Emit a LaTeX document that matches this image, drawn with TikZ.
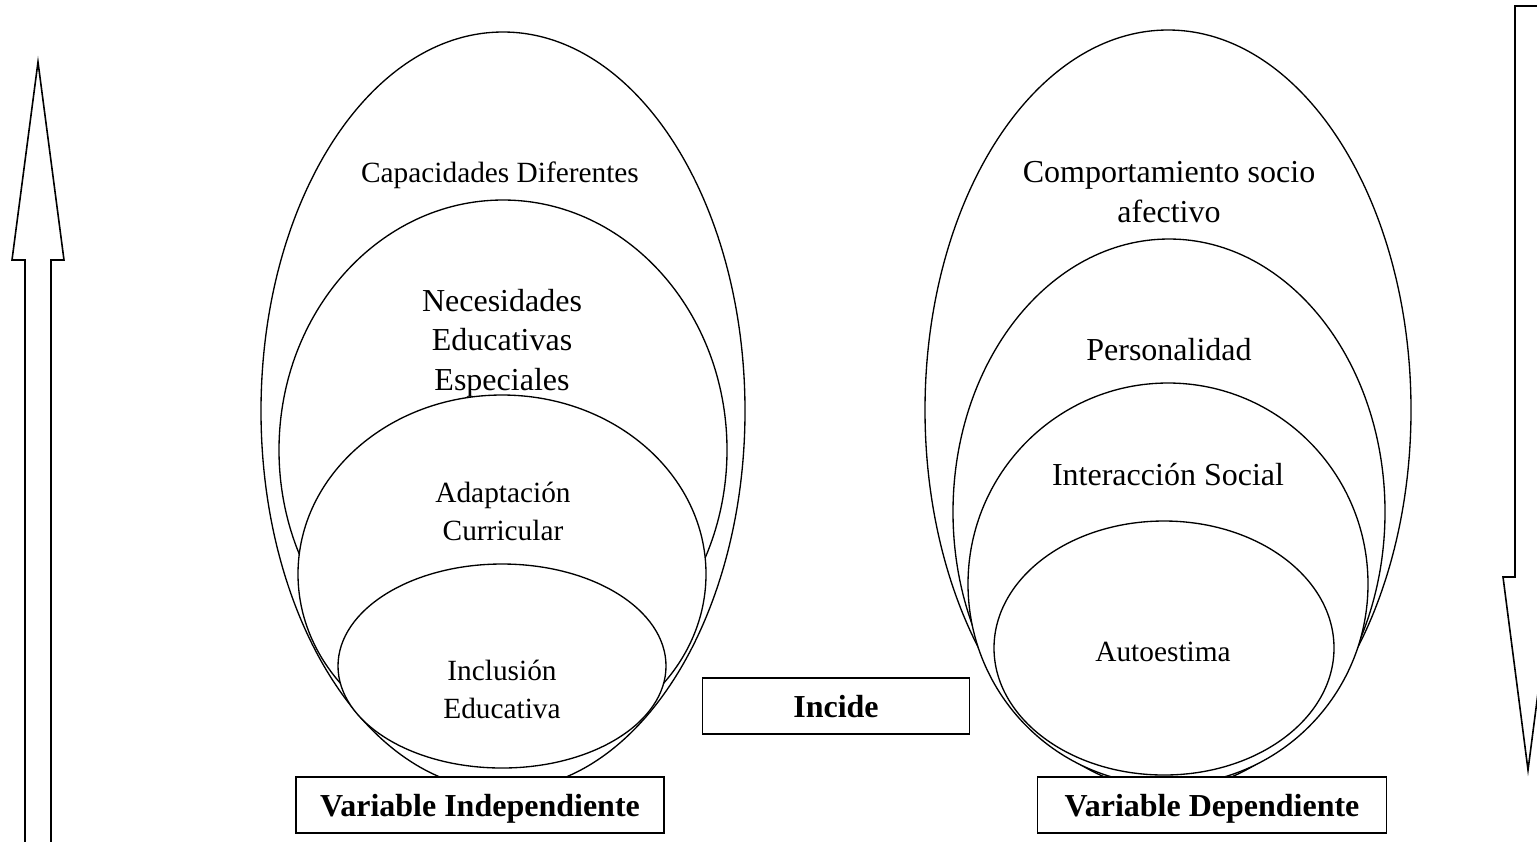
\documentclass[tikz,border=0pt]{standalone}
\usepackage{fontspec}
\setmainfont{Liberation Serif}

\tikzset{
  ovalo/.style={draw, fill=white, line width=0.5pt},
  caja/.style={draw, fill=white, line width=0.6pt, inner sep=0pt,
    minimum height=21pt, text height=0.88em, text depth=0pt,
    font=\fontsize{12}{14}\selectfont\bfseries},
  grande/.style={font=\fontsize{12}{14.8}\selectfont, align=center, anchor=base},
  chica/.style={font=\fontsize{11}{13.9}\selectfont, align=center, anchor=base},
  flecha/.style={draw, line width=0.6pt, line join=miter}
}

\begin{document}
\begin{tikzpicture}[x=0.375pt, y=-0.375pt]
    \useasboundingbox (0,0) rectangle (1537,841);
    \clip (0,0) rectangle (1537,841);

    % Flechas laterales
    \draw[flecha] (25,850) -- (25,260) -- (12,260) -- (38,62) -- (64,260) -- (51,260) -- (51,850);
    \draw[flecha] (1515,6) -- (1515,577) -- (1503,577) -- (1528,770) -- (1553,577) -- (1541,577) -- (1541,6) -- cycle;

    % Variable independiente
    \draw[ovalo] (503,411) ellipse [x radius=242, y radius=379];
    \draw[ovalo] (503,450) ellipse [x radius=224, y radius=250];
    \draw[ovalo] (502,574) ellipse [x radius=204, y radius=179];
    \draw[ovalo] (502,666) ellipse [x radius=164, y radius=102];

    % Variable dependiente
    \draw[ovalo] (1168,410) ellipse [x radius=243, y radius=380];
    \draw[ovalo] (1169,512) ellipse [x radius=216, y radius=273];
    \draw[ovalo] (1168,584) ellipse [x radius=200, y radius=201];
    \draw[ovalo] (1164,648) ellipse [x radius=170, y radius=127];

    % Textos (anchor base = ultima linea)
    \node[chica] (capDif) at (500,182) {Capacidades Diferentes};
    \node[grande] (necEsp) at (502,390) {Necesidades\\Educativas\\Especiales};
    \node[chica] (adaCur) at (503,540) {Adaptación\\Curricular};
    \node[chica] (incEdu) at (502,718) {Inclusión\\Educativa};

    \node[grande] (comSoc) at (1169,222) {Comportamiento socio\\afectivo};
    \node[grande] (person) at (1169,360) {Personalidad};
    \node[grande] (intSoc) at (1168,485) {Interacción Social};
    \node[chica] (autoes) at (1163,661) {Autoestima};

    % Cajas
    \node[caja, minimum width=138pt] (varInd) at (480,805) {Variable Independiente};
    \node[caja, minimum width=131pt] (varDep) at (1212,805) {Variable Dependiente};
    \node[caja, minimum width=100pt] (incide) at (836,706) {Incide};

\end{tikzpicture}
\end{document}
